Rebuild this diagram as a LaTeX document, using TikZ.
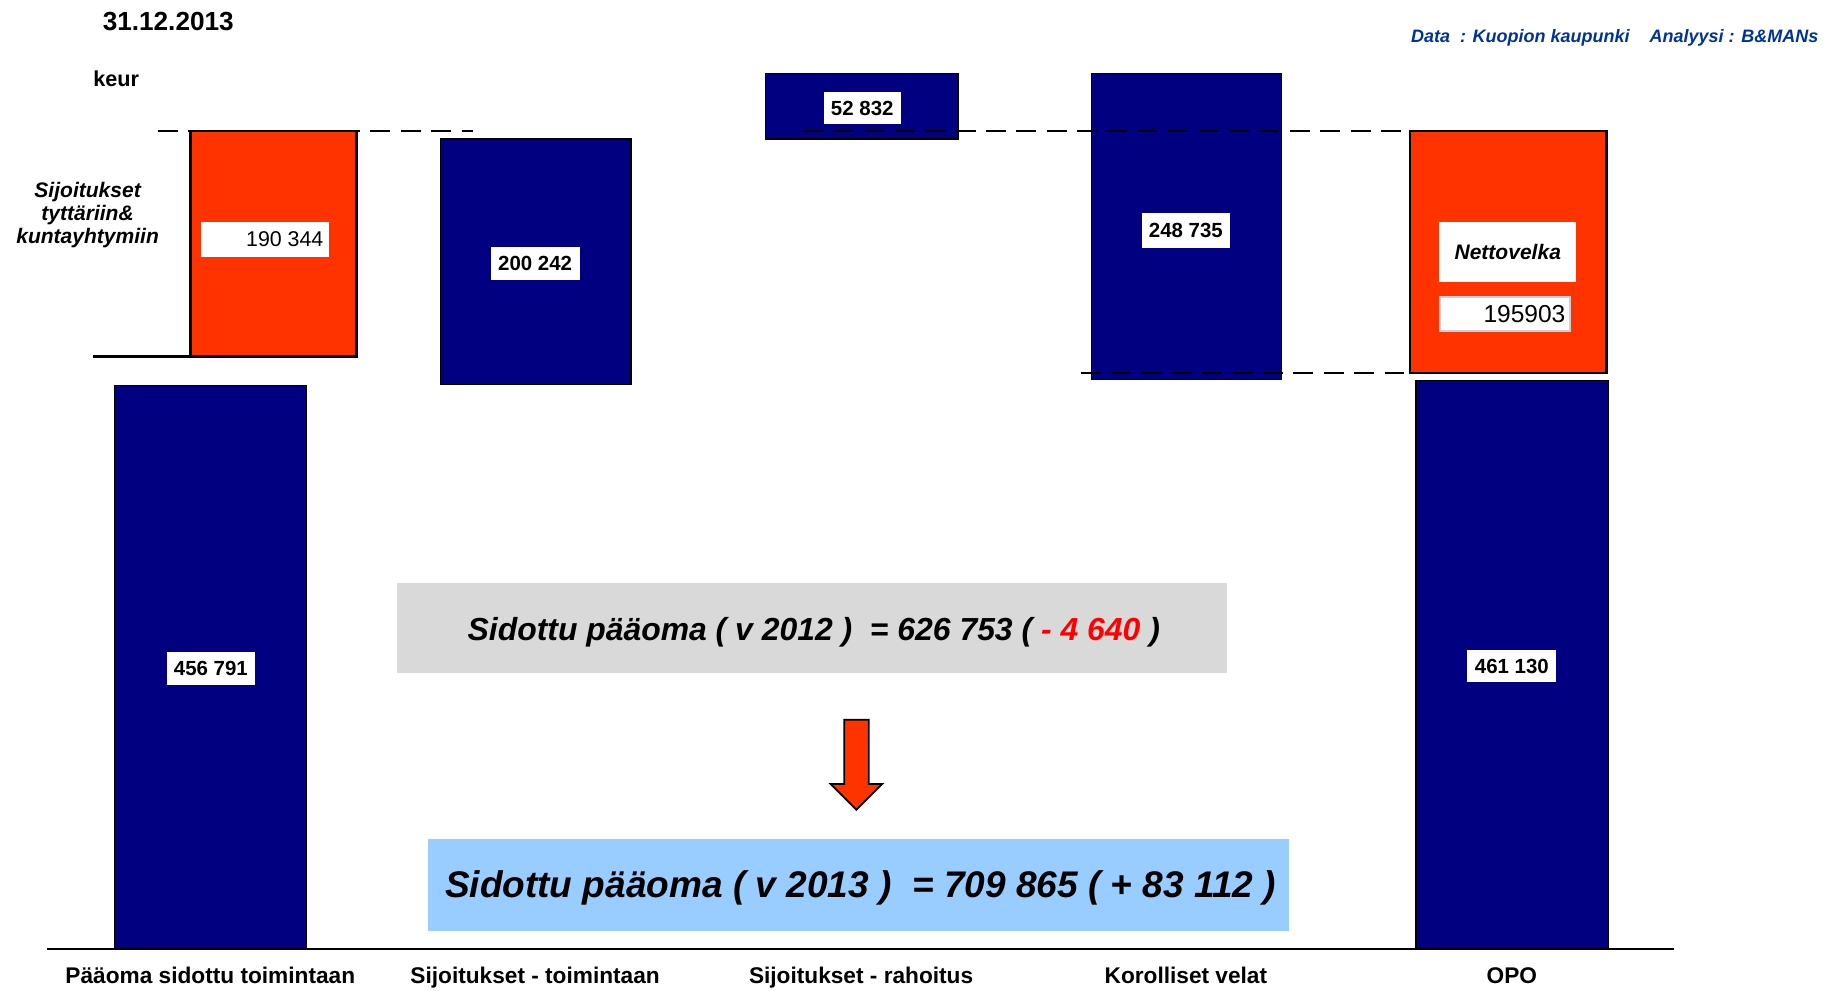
\documentclass[tikz,border=0pt]{standalone}
\usepackage{fontspec}
\setmainfont{Liberation Sans}
\definecolor{navy}{HTML}{000080}
\definecolor{orng}{HTML}{FF3300}
\definecolor{grayb}{HTML}{D9D9D9}
\definecolor{lblue}{HTML}{99CCFF}
\definecolor{datablue}{HTML}{003399}
\definecolor{boxedge}{HTML}{C8D0DC}
\newcommand{\setfs}[1]{\fontsize{#1}{1.2\dimexpr #1pt\relax}\selectfont}
\begin{document}
\begin{tikzpicture}[x=1pt,y=-1pt,
  bar/.style={draw=black, line width=1pt, inner sep=0pt, outer sep=0pt, anchor=north west},
  navybar/.style={bar, fill=navy},
  orangebar/.style={bar, fill=orng, line width=2pt},
  val/.style={fill=white, inner sep=0pt, minimum height=28pt, font=\bfseries\setfs{17.5}},
  cat/.style={font=\bfseries\setfs{19.4}, inner sep=0pt, anchor=base},
  dashline/.style={line width=2pt, dash pattern=on 17pt off 9pt},
  solidline/.style={line width=2pt},
]
\useasboundingbox (0,0) rectangle (1568,848);

% bars
\node[orangebar, minimum width=142pt, minimum height=193pt] (o1) at (163,112) {};
\node[navybar, minimum width=164pt, minimum height=482pt] (b1) at (98,330) {};
\node[navybar, minimum width=163pt, minimum height=210pt] (b2) at (377,119) {};
\node[navybar, minimum width=165pt, minimum height=56pt] (b3) at (655,63) {};
\node[navybar, minimum width=163pt, minimum height=262pt] (b4) at (934,63) {};
\node[orangebar, minimum width=168pt, minimum height=207pt] (o2) at (1207,112) {};
\node[navybar, minimum width=165pt, minimum height=486pt] (b5) at (1212,326) {};

% value labels
\node[val, minimum width=75pt] (l1) at (180.5,572) {456 791};
\node[val, minimum width=76pt, minimum height=29pt] (l2) at (458,225.5) {200 242};
\node[val, minimum width=66pt, minimum height=27pt] (l3) at (738,92.5) {52 832};
\node[val, minimum width=76pt, minimum height=30pt] (l4) at (1015,197) {248 735};
\node[val, minimum width=76pt] (l5) at (1294,570) {461 130};
\node[fill=white, minimum width=110pt, minimum height=30pt, inner sep=0pt] (lo1) at (227,205) {};
\node[anchor=east, font=\setfs{18.3}, inner sep=0pt] (lo1t) at (277,205) {190 344};
\node[fill=white, minimum width=117pt, minimum height=51pt, inner sep=0pt, font=\bfseries\itshape\setfs{18}] (nv) at (1290.5,215.5) {Nettovelka};
\node[fill=white, draw=boxedge, line width=1.5pt, minimum width=111pt, minimum height=29pt, inner sep=0pt] (nvb) at (1288,269) {};
\node[anchor=east, font=\setfs{21}, inner sep=0pt] (nvt) at (1340,269) {195903};

% dashed and solid guide lines
\coordinate (d1a) at (135,112);
\coordinate (d1b) at (405,112);
\coordinate (d2a) at (688,112);
\coordinate (d3a) at (925,319);
\coordinate (s1a) at (80,305);
\draw[dashline] (d1a) -- (d1b);
\draw[dashline] (d2a) -- (o2.north west);
\draw[dashline] (d3a) -- (o2.south west);
\draw[solidline] (s1a) -- (o1.south west);

% axis
\coordinate (ax1) at (40,812);
\coordinate (ax2) at (1433,812);
\draw[solidline] (ax1) -- (ax2);

% header texts
\node[font=\bfseries\setfs{22.4}, inner sep=0pt] (title) at (144,18) {31.12.2013};
\node[font=\bfseries\setfs{18.5}, inner sep=0pt] (keur) at (99.5,67) {keur};
\node[font=\bfseries\itshape\setfs{15.4}, text=datablue, inner sep=0pt] (data) at (1382,32.5) {Data~~: Kuopion kaupunki~~~~Analyysi : B\&MANs};
\node[align=center, font=\bfseries\itshape\fontsize{18}{20}\selectfont, inner sep=0pt] (sij) at (75,184) {Sijoitukset\\tyttäriin\&\\kuntayhtymiin};

% category labels
\node[cat] (c1) at (180,841.5) {Pääoma sidottu toimintaan};
\node[cat] (c2) at (458,841.5) {Sijoitukset - toimintaan};
\node[cat] (c3) at (737,841.5) {Sijoitukset - rahoitus};
\node[cat] (c4) at (1015,841.5) {Korolliset velat};
\node[cat] (c5) at (1294,841.5) {OPO};

% summary boxes
\node[fill=grayb, minimum width=710pt, minimum height=77pt, inner sep=0pt, anchor=north west] (g) at (340,499) {};
\node[font=\bfseries\itshape\setfs{27.3}, inner sep=0pt, anchor=base] (gt) at (696.5,548) {Sidottu pääoma ( v 2012 ) ~= 626 753 ( {\color{red}- 4 640} )};
\node[fill=lblue, minimum width=737pt, minimum height=79pt, inner sep=0pt, anchor=north west] (bl) at (366,718) {};
\node[font=\bfseries\itshape\setfs{31.7}, inner sep=0pt, anchor=base] (bt) at (736.5,768.5) {Sidottu pääoma ( v 2013 ) ~= 709 865 ( + 83 112 )};

% block arrow
\draw[fill=orng, line width=1.5pt, line join=miter]
  (722.5,616) -- (743.5,616) -- (743.5,671) -- (755,671) -- (733,693)
  -- (711,671) -- (722.5,671) -- cycle;
\end{tikzpicture}
\end{document}
